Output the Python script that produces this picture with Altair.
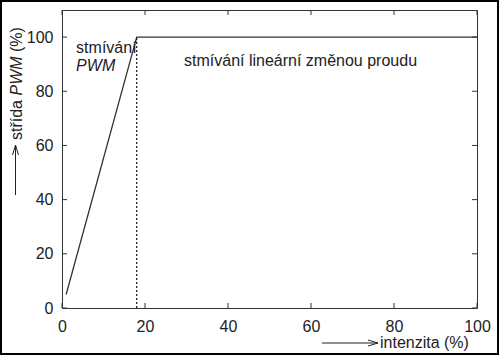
import altair as alt
import pandas as pd

# ---- data ----
curve_x = [1, 18, 100]
curve_y = [5, 100, 100]
limit_x = [18, 18]
limit_y = [0, 100]
x_ticks = [0, 20, 40, 60, 80, 100]
y_ticks = [0, 20, 40, 60, 80, 100]
notes_text = ["stmívání", "PWM", "stmívání lineární změnou proudu"]
notes_x = [3.4, 3.4, 29.4]
notes_y = [96.0, 89.5, 91.0]
notes_style = ["normal", "italic", "normal"]

W, H = 415, 298
FONT = "Liberation Sans"
INK = "#222222"
LINE = "#333333"

curve = pd.DataFrame({"x": curve_x, "y": curve_y})
limit = pd.DataFrame({"x": limit_x, "y": limit_y})
notes = pd.DataFrame({"t": notes_text, "x": notes_x, "y": notes_y, "s": notes_style})
xt = pd.DataFrame({"v": x_ticks})
yt = pd.DataFrame({"v": y_ticks})

xs = alt.Scale(domain=[0, 100], nice=False, zero=False)
ys = alt.Scale(domain=[0, 110], nice=False, zero=False)

xaxis = alt.Axis(values=x_ticks, tickSize=0, domain=False, grid=False, title=None,
                 labelFont=FONT, labelFontSize=16, labelColor=INK, labelPadding=10,
                 labelFlush=False)
yaxis = alt.Axis(values=y_ticks, tickSize=0, domain=False, grid=False, title=None,
                 labelFont=FONT, labelFontSize=16, labelColor=INK, labelPadding=9)

line = alt.Chart(curve).mark_line(color=LINE, strokeWidth=1.3).encode(
    x=alt.X("x:Q", scale=xs, axis=xaxis),
    y=alt.Y("y:Q", scale=ys, axis=yaxis),
)
dotted = alt.Chart(limit).mark_line(color="#111111", strokeWidth=1.2, strokeDash=[2, 2]).encode(
    x=alt.X("x:Q", scale=xs), y=alt.Y("y:Q", scale=ys)
)

# inward ticks (mirrored on all four sides)
xt_bot = alt.Chart(xt).mark_rule(color=LINE, strokeWidth=1).encode(
    x=alt.X("v:Q", scale=xs), y=alt.value(H), y2=alt.value(H - 5))
xt_top = alt.Chart(xt).mark_rule(color=LINE, strokeWidth=1).encode(
    x=alt.X("v:Q", scale=xs), y=alt.value(0), y2=alt.value(5))
yt_left = alt.Chart(yt).mark_rule(color=LINE, strokeWidth=1).encode(
    y=alt.Y("v:Q", scale=ys), x=alt.value(0), x2=alt.value(5))
yt_right = alt.Chart(yt).mark_rule(color=LINE, strokeWidth=1).encode(
    y=alt.Y("v:Q", scale=ys), x=alt.value(W), x2=alt.value(W - 5))

note_layers = []
for style in ["normal", "italic"]:
    note_layers.append(
        alt.Chart(notes[notes.s == style]).mark_text(
            align="left", baseline="middle", font=FONT, fontSize=16, color=INK,
            fontStyle=style,
        ).encode(x=alt.X("x:Q", scale=xs), y=alt.Y("y:Q", scale=ys), text="t:N")
    )

one = pd.DataFrame({"k": [0]})

# axis titles
ytitle_parts = [("střída", "normal", 130), ("PWM", "italic", 85.5), ("(%)", "normal", 42)]
title_layers = []
for txt, st, ypos in ytitle_parts:
    title_layers.append(
        alt.Chart(one).mark_text(
            text=txt, angle=270, align="left", baseline="middle", font=FONT,
            fontSize=16, color=INK, fontStyle=st,
        ).encode(x=alt.value(-45), y=alt.value(ypos))
    )
title_layers.append(
    alt.Chart(one).mark_text(
        text="intenzita (%)", align="left", baseline="middle", font=FONT,
        fontSize=16, color=INK,
    ).encode(x=alt.value(318), y=alt.value(333))
)

# title arrows (shaft + open head), in pixel space
def seg(x1, y1, x2, y2):
    return alt.Chart(one).mark_rule(color=INK, strokeWidth=1).encode(
        x=alt.value(x1), y=alt.value(y1), x2=alt.value(x2), y2=alt.value(y2))

arrows = [
    seg(-46.5, 185, -46.5, 135), seg(-46.5, 135, -49.5, 145), seg(-46.5, 135, -43.5, 145),
    seg(260, 333, 316, 333), seg(316, 333, 306, 330), seg(316, 333, 306, 336),
]

border = alt.Chart(one).mark_rect(filled=False, stroke="#000000", strokeWidth=2).encode(
    x=alt.value(-61), x2=alt.value(436), y=alt.value(-9), y2=alt.value(344))

chart = alt.layer(
    line, dotted, xt_bot, xt_top, yt_left, yt_right, *note_layers, *title_layers, *arrows, border
).properties(
    width=W, height=H,
    autosize=alt.AutoSizeParams(type="none"),
    padding={"left": 62, "top": 10, "right": 23, "bottom": 48},
    background="white",
).configure_view(stroke=LINE, strokeWidth=1)

chart.save("out.html", embed_options={"renderer": "svg", "actions": False})
